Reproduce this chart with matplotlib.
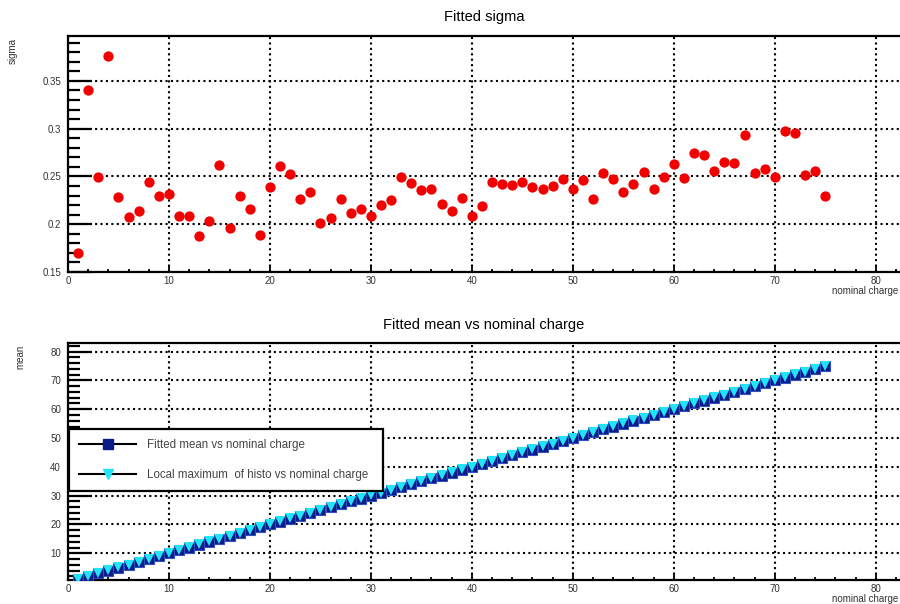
import numpy as np
import matplotlib.pyplot as plt
from matplotlib.lines import Line2D
from matplotlib.ticker import MultipleLocator, FormatStrFormatter

plt.rcParams['font.family'] = ['Liberation Sans', 'DejaVu Sans']

# Data
charge = list(range(1, 76))
sigma = [
    0.170, 0.341, 0.249, 0.376, 0.229, 0.208, 0.214, 0.244, 0.230, 0.232,
    0.209, 0.209, 0.188, 0.203, 0.262, 0.196, 0.230, 0.216, 0.189, 0.239,
    0.261, 0.253, 0.226, 0.234, 0.201, 0.207, 0.226, 0.212, 0.216, 0.209,
    0.220, 0.225, 0.249, 0.243, 0.236, 0.237, 0.221, 0.214, 0.227, 0.209,
    0.219, 0.244, 0.242, 0.241, 0.244, 0.239, 0.237, 0.240, 0.247, 0.237,
    0.246, 0.226, 0.254, 0.247, 0.234, 0.242, 0.255, 0.237, 0.249, 0.263,
    0.248, 0.275, 0.272, 0.256, 0.265, 0.264, 0.293, 0.254, 0.258, 0.249,
    0.298, 0.296, 0.251, 0.256, 0.230,
]
mean_fit = [
    1.0, 2.0, 3.0, 4.0, 5.0, 6.0, 7.0, 8.0, 9.0, 10.0,
    11.0, 12.0, 13.0, 14.0, 15.0, 16.0, 17.0, 18.0, 19.0, 20.0,
    21.0, 22.0, 23.0, 24.0, 25.0, 26.0, 27.0, 28.0, 29.0, 30.0,
    31.0, 32.0, 33.0, 34.0, 35.0, 36.0, 37.0, 38.0, 39.0, 40.0,
    41.0, 42.0, 43.0, 44.0, 45.0, 46.0, 47.0, 48.0, 49.0, 50.0,
    51.0, 52.0, 53.0, 54.0, 55.0, 56.0, 57.0, 58.0, 59.0, 60.0,
    61.0, 62.0, 63.0, 64.0, 65.0, 66.0, 67.0, 68.0, 69.0, 70.0,
    71.0, 72.0, 73.0, 74.0, 75.0,
]
local_max = [
    1.1, 2.1, 3.1, 4.1, 5.1, 6.1, 7.1, 8.1, 9.1, 10.1,
    11.1, 12.1, 13.1, 14.1, 15.1, 16.1, 17.1, 18.1, 19.1, 20.1,
    21.1, 22.1, 23.1, 24.1, 25.1, 26.1, 27.1, 28.1, 29.1, 30.1,
    31.1, 32.1, 33.1, 34.1, 35.1, 36.1, 37.1, 38.1, 39.1, 40.1,
    41.1, 42.1, 43.1, 44.1, 45.1, 46.1, 47.1, 48.1, 49.1, 50.1,
    51.1, 52.1, 53.1, 54.1, 55.1, 56.1, 57.1, 58.1, 59.1, 60.1,
    61.1, 62.1, 63.1, 64.1, 65.1, 66.1, 67.1, 68.1, 69.1, 70.1,
    71.1, 72.1, 73.1, 74.1, 75.1,
]

W, H = 900, 604
fig = plt.figure(figsize=(9, 6.04), dpi=100)

ax1 = fig.add_axes([68 / W, 1 - 272 / H, (W - 68) / W, 236 / H])
ax2 = fig.add_axes([68 / W, 1 - 580 / H, (W - 68) / W, 237 / H])

tick_col = '#333333'


def style(ax, ymajor, yminor):
    ax.set_xlim(0, 82.4)
    ax.xaxis.set_major_locator(MultipleLocator(10))
    ax.xaxis.set_minor_locator(MultipleLocator(2))
    ax.yaxis.set_major_locator(MultipleLocator(ymajor))
    ax.yaxis.set_minor_locator(MultipleLocator(yminor))
    ax.grid(True, which='major', color='black', linestyle=(0, (1, 1.6)), linewidth=1.5)
    ax.set_axisbelow(True)
    ax.spines['right'].set_visible(False)
    for s in ('left', 'bottom', 'top'):
        ax.spines[s].set_linewidth(1.6)
    ax.tick_params(axis='y', which='major', direction='in', length=17, width=1.6,
                   labelsize=7, labelcolor=tick_col, pad=5)
    ax.tick_params(axis='y', which='minor', direction='in', length=8.5, width=1.6)
    ax.tick_params(axis='x', which='major', direction='in', length=5, width=1.3,
                   labelsize=7, labelcolor=tick_col, pad=3)
    ax.tick_params(axis='x', which='minor', direction='in', length=2.5, width=1.3)


# Top panel: fitted sigma
ax1.plot(charge, sigma, 'o', color='#f20000', markersize=7.4, markeredgewidth=0, zorder=3)
style(ax1, 0.05, 0.01)
ax1.set_ylim(0.15, 0.397)
ax1.yaxis.set_major_formatter(FormatStrFormatter('%g'))

# Bottom panel: mean vs nominal charge
ax2.plot(charge, mean_fit, 's', color='#0c1a8a', markeredgecolor='#3050c0',
         markersize=7, markeredgewidth=0.8, zorder=3)
ax2.plot(charge, local_max, 'v', color='#22e4f6', markeredgecolor='#22e4f6',
         markersize=7.6, markeredgewidth=0, zorder=4)
style(ax2, 10, 2)
ax2.set_ylim(0.73, 83.0)

h1 = Line2D([], [], color='black', linewidth=1.5, marker='s', markersize=7,
            markerfacecolor='#0c1a8a', markeredgecolor='#0c1a8a')
h2 = Line2D([], [], color='black', linewidth=1.5, marker='v', markersize=7,
            markerfacecolor='#22e4f6', markeredgecolor='#22e4f6')
leg = fig.legend([h1, h2],
                 ['Fitted mean vs nominal charge', 'Local maximum  of histo vs nominal charge'],
                 loc='lower left', mode='expand',
                 bbox_to_anchor=(69 / W, 1 - 491 / H, 314 / W, 63 / H),
                 fontsize=8.3, handlelength=5.0, handletextpad=0.95,
                 labelspacing=1.6, borderpad=0.85, borderaxespad=0,
                 fancybox=False, framealpha=1, edgecolor='black')
leg.get_frame().set_linewidth(1.6)
for t in leg.get_texts():
    t.set_color('#444444')

# Titles and axis labels
cx = (68 + W) / 2 / W
fig.text(cx, 1 - 17 / H, 'Fitted sigma', ha='center', va='center', fontsize=10.5)
fig.text(cx, 1 - 325 / H, 'Fitted mean vs nominal charge', ha='center', va='center', fontsize=10.5)
fig.text(12.5 / W, 1 - 38 / H, 'sigma', rotation=90, ha='center', va='top',
         fontsize=7, color=tick_col)
fig.text(20 / W, 1 - 345 / H, 'mean', rotation=90, ha='center', va='top',
         fontsize=7, color=tick_col)
fig.text(898 / W, 1 - 291 / H, 'nominal charge', ha='right', va='center',
         fontsize=7, color=tick_col)
fig.text(898 / W, 1 - 599 / H, 'nominal charge', ha='right', va='center',
         fontsize=7, color=tick_col)

fig.savefig('out.png', dpi=100)
